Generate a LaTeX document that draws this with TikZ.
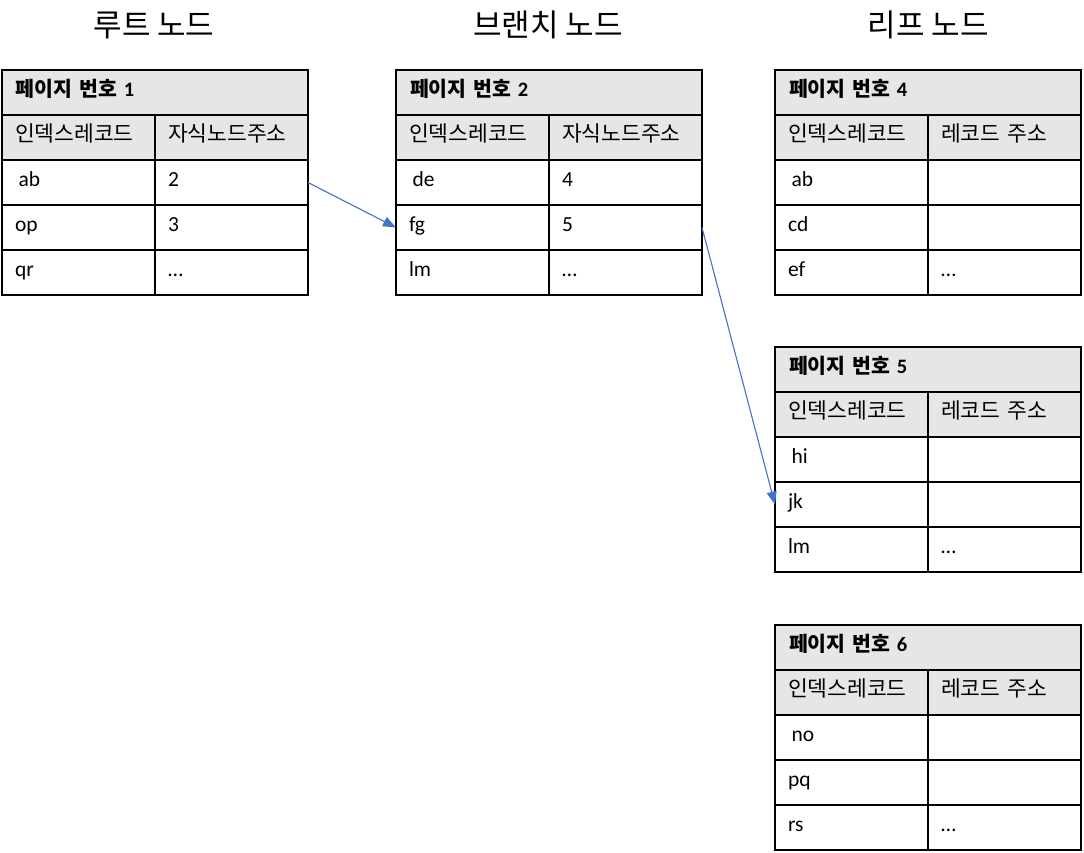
\documentclass[tikz,border=0pt]{standalone}
\usepackage{fontspec}
\setmainfont{Carlito}
\newfontfamily\kr{Noto Sans CJK KR}
\usetikzlibrary{arrows.meta,positioning}
\definecolor{hdrgray}{RGB}{230,230,230}
\definecolor{linkblue}{RGB}{68,114,196}

% #1 name, #2 left x, #3 top y, #4 page no, #5 second column title, #6 rows key/addr
\newcommand{\pagetable}[6]{%
  \node[hdrcell, anchor=north west] (#1-h) at (#2,#3) {{\kr 페이지 번호} #4};
  \node[cell, fill=hdrgray, below right=0pt and 0pt of #1-h.south west] (#1-0-k) {\kr 인덱스레코드};
  \node[cell, fill=hdrgray, right=0pt of #1-0-k] (#1-0-v) {\kr #5};
  \foreach \k/\v [count=\i] in {#6}{
    \pgfmathtruncatemacro\prev{\i-1}
    \node[cell, below=0pt of #1-\prev-k] (#1-\i-k) {\k};
    \node[cell, right=0pt of #1-\i-k] (#1-\i-v) {\v};
  }
}

\begin{document}
\begin{tikzpicture}[x=1pt, y=-1pt,
    cell/.style={draw, line width=1.8pt, outer sep=0pt, inner xsep=13pt, inner ysep=0pt,
      text width=127pt, minimum height=45pt, align=left,
      text height=11pt, text depth=4pt, font=\fontsize{21.5}{25}\selectfont},
    hdrcell/.style={cell, fill=hdrgray, inner xsep=14pt, text width=278pt,
      text height=11pt, text depth=4pt, font=\fontsize{20.5}{24}\selectfont\bfseries},
    title/.style={font=\fontsize{31}{35}\selectfont\kr},
    link/.style={-{Triangle[length=13pt, width=10pt]}, linkblue, line width=1.1pt}]
  \useasboundingbox (0,0) rectangle (1084,852);

  % titles
  \node[title] (root-t) at (154,25) {루트 노드};
  \node[title] (branch-t) at (548,25) {브랜치 노드};
  \node[title] (leaf-t) at (928,25) {리프 노드};

  % pages
  \pagetable{p1}{2}{70}{1}{자식노드주소}{\,ab/2,op/3,qr/\ldots}
  \pagetable{p2}{396}{70}{2}{자식노드주소}{\,de/4,fg/5,lm/\ldots}
  \pagetable{p4}{775}{70}{4}{레코드 주소}{\,ab/,cd/,ef/\ldots}
  \pagetable{p5}{775}{347}{5}{레코드 주소}{\,hi/,jk/,lm/\ldots}
  \pagetable{p6}{775}{625}{6}{레코드 주소}{\,no/,pq/,rs/\ldots}

  % links
  \draw[link] (p1-1-v.east) -- (p2-2-k.west);
  \draw[link] (p2-2-v.east) -- (p5-2-k.west);
\end{tikzpicture}
\end{document}
